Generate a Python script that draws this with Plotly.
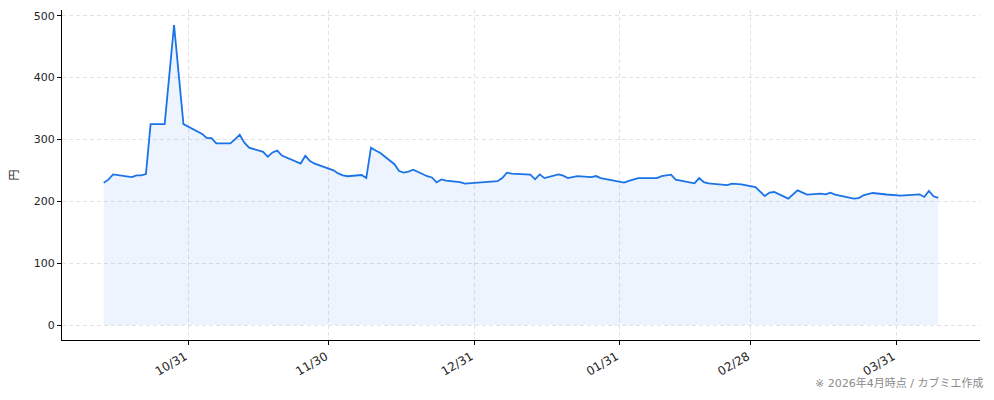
import pandas as pd
import plotly.graph_objects as go

dates = [
    "2025-10-14", "2025-10-15", "2025-10-16", "2025-10-20", "2025-10-21", "2025-10-22",
    "2025-10-23", "2025-10-24", "2025-10-27", "2025-10-29", "2025-10-31",
    "2025-11-04", "2025-11-05", "2025-11-06", "2025-11-07", "2025-11-10", "2025-11-11",
    "2025-11-12", "2025-11-13", "2025-11-14", "2025-11-17", "2025-11-18", "2025-11-19",
    "2025-11-20", "2025-11-21", "2025-11-25", "2025-11-26", "2025-11-27", "2025-11-28",
    "2025-12-01", "2025-12-02", "2025-12-03", "2025-12-04", "2025-12-05", "2025-12-08",
    "2025-12-09", "2025-12-10", "2025-12-11", "2025-12-12", "2025-12-15", "2025-12-16",
    "2025-12-17", "2025-12-18", "2025-12-19", "2025-12-22", "2025-12-23", "2025-12-24",
    "2025-12-25", "2025-12-26", "2025-12-29", "2025-12-30",
    "2026-01-06", "2026-01-07", "2026-01-08", "2026-01-09", "2026-01-13", "2026-01-14",
    "2026-01-15", "2026-01-16", "2026-01-19", "2026-01-20", "2026-01-21", "2026-01-23",
    "2026-01-26", "2026-01-27", "2026-01-28", "2026-01-30",
    "2026-02-02", "2026-02-03", "2026-02-05", "2026-02-09", "2026-02-10", "2026-02-12",
    "2026-02-13", "2026-02-17", "2026-02-18", "2026-02-19", "2026-02-20", "2026-02-24",
    "2026-02-25", "2026-02-27",
    "2026-03-02", "2026-03-04", "2026-03-05", "2026-03-06", "2026-03-09", "2026-03-11",
    "2026-03-13", "2026-03-16", "2026-03-17", "2026-03-18", "2026-03-19", "2026-03-23",
    "2026-03-24", "2026-03-25", "2026-03-27", "2026-03-30", "2026-04-02", "2026-04-06",
    "2026-04-07", "2026-04-08", "2026-04-09", "2026-04-10",
]

prices = [
    230, 235, 243.5, 239, 242, 242,
    244, 324.7, 324.7, 485, 324.7,
    309, 302, 302, 293.5, 293.5, 300,
    307.5, 294.7, 286.6, 280, 272, 279,
    282, 274, 261, 273.5, 265, 260.8,
    253, 250, 245, 242, 240.5, 242.5,
    237.6, 286.6, 282, 278, 260, 249,
    246.5, 248, 251, 240.5, 238.5, 230.5,
    235.3, 233.5, 231, 228.5,
    232.5, 237.6, 246.3, 244.6, 243, 235.5,
    243.5, 237.5, 243.5, 241.5, 237.6, 240.8,
    239.2, 240.8, 237.6, 235,
    230.2, 233, 237.6, 237.6, 240.8, 243,
    235, 229, 237.6, 231, 229, 226,
    228.5, 227.4,
    223, 208.5, 214, 215, 204.3, 217.7,
    210.8, 212.4, 211.3, 214, 210.8, 204.3,
    205, 209.5, 213.4, 211, 209.2, 211.3,
    207, 216.6, 208, 205.4,
]

tick_dates = ["2025-11-01", "2025-12-01", "2026-01-01", "2026-02-01", "2026-03-01", "2026-04-01"]
tick_labels = ["10/31", "11/30", "12/31", "01/31", "02/28", "03/31"]
y_ticks = [0, 100, 200, 300, 400, 500]

LINE = "#1a73e8"
FONT = "DejaVu Sans, Noto Sans CJK JP"
CJK = "Noto Sans CJK JP"

d = pd.to_datetime(dates)
span = d.max() - d.min()
x_range = [d.min() - span * 0.05, d.max() + span * 0.05]
ymin, ymax = 0, max(prices)
ypad = (ymax - ymin) * 0.05
y_range = [ymin - ypad, ymax + ypad]

fig = go.Figure()
fig.add_trace(go.Scatter(
    x=d, y=prices, mode="lines",
    line=dict(color=LINE, width=1.8),
    fill="tozeroy", fillcolor="rgba(26,115,232,0.08)",
    hoverinfo="skip", showlegend=False,
))

axis_common = dict(
    showline=True, linecolor="black", linewidth=1,
    ticks="outside", ticklen=4, tickwidth=1, tickcolor="black",
    showgrid=True, gridcolor="#e2e2e2", gridwidth=1, griddash="4px,3px",
    zeroline=False, mirror=False,
)

fig.update_layout(
    width=994, height=400,
    margin=dict(l=62, r=14, t=10, b=60, pad=0),
    plot_bgcolor="white", paper_bgcolor="white",
    font=dict(family=FONT, color="#262626"),
    xaxis=dict(
        type="date", range=x_range,
        tickvals=pd.to_datetime(tick_dates), ticktext=tick_labels, tickangle=-30,
        ticklabelshift=-3,
        tickfont=dict(family=FONT, size=12, color="#262626"),
        automargin=False, **axis_common,
    ),
    yaxis=dict(
        range=y_range, tickvals=y_ticks,
        tickfont=dict(family=FONT, size=11, color="#262626"),
        title=dict(text="円", font=dict(family=CJK, size=11, color="#262626"), standoff=12),
        automargin=False, **axis_common,
    ),
    annotations=[dict(
        text="※ 2026年4月時点 / カブミエ作成",
        xref="paper", yref="paper", x=1.0054, y=-0.13,
        xanchor="right", yanchor="middle", showarrow=False,
        font=dict(family=FONT, size=11, color="#8a8a8a"),
    )],
)

fig.write_html("out.html", config={"displayModeBar": False},
               post_script="document.body.style.margin='0';")
